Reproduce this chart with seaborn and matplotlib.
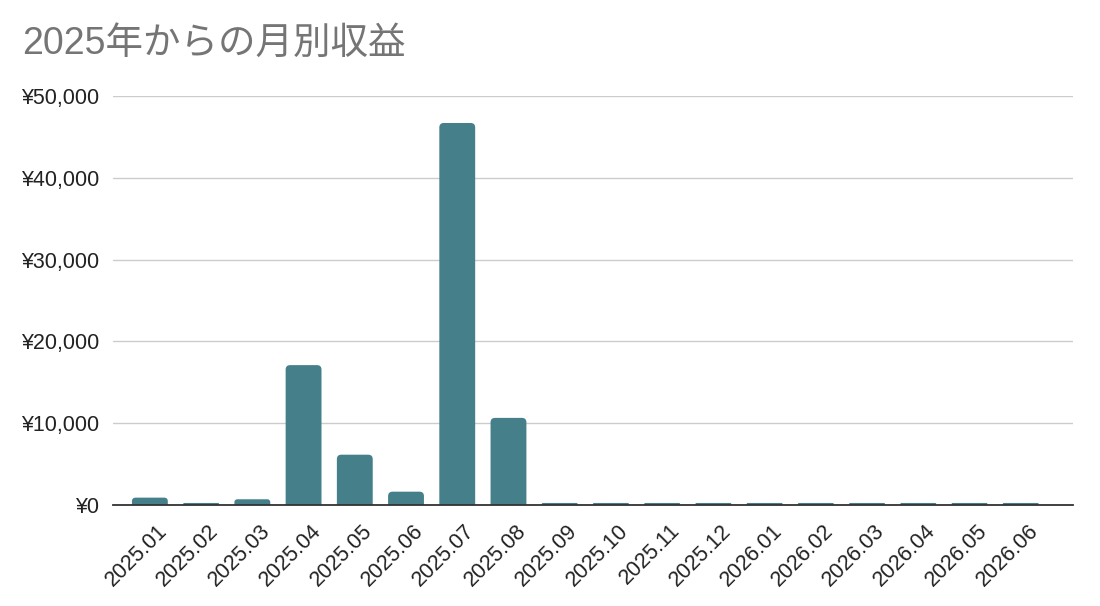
import matplotlib
matplotlib.use("Agg")
import matplotlib.pyplot as plt
from matplotlib.patches import PathPatch
from matplotlib.path import Path
from matplotlib.ticker import FuncFormatter
import matplotlib.transforms as mtransforms
import seaborn as sns
import pandas as pd

months = ["2025.01", "2025.02", "2025.03", "2025.04", "2025.05", "2025.06",
          "2025.07", "2025.08", "2025.09", "2025.10", "2025.11", "2025.12",
          "2026.01", "2026.02", "2026.03", "2026.04", "2026.05", "2026.06"]
revenue = [900, 250, 700, 17100, 6150, 1630, 46700, 10650, 250, 250,
           250, 250, 250, 250, 250, 250, 250, 250]
y_ticks = [0, 10000, 20000, 30000, 40000, 50000]
title = "2025年からの月別収益"

bar_color = "#457f8a"

sns.set_theme(style="white")
plt.rcParams["font.family"] = ["Liberation Sans", "Noto Sans CJK JP", "DejaVu Sans"]

df = pd.DataFrame({"month": months, "revenue": revenue})

fig = plt.figure(figsize=(11, 6.06), dpi=100)
ax = fig.add_axes([113 / 1100, 101 / 606, 960 / 1100, 409 / 606])

sns.barplot(data=df, x="month", y="revenue", color=bar_color, saturation=1,
            width=0.70, ax=ax, zorder=3)

ax.set_ylim(0, 50000)
ax.set_xlim(-0.72, len(months) - 1 + 1.02)

# rounded top corners (replace each seaborn bar with a top-rounded path)
px_per_x = 960 / (ax.get_xlim()[1] - ax.get_xlim()[0])
px_per_y = 409 / 50000
r_px = 4.5
for p in list(ax.patches):
    x0, w, h = p.get_x(), p.get_width(), p.get_height()
    p.set_visible(False)
    x1 = x0 + w
    r = min(r_px, h * px_per_y / 2.0)
    rx = r / px_per_x
    ry = r / px_per_y
    verts = [(x0, 0), (x0, h - ry), (x0, h), (x0 + rx, h), (x1 - rx, h),
             (x1, h), (x1, h - ry), (x1, 0), (x0, 0)]
    codes = [Path.MOVETO, Path.LINETO, Path.CURVE3, Path.CURVE3, Path.LINETO,
             Path.CURVE3, Path.CURVE3, Path.LINETO, Path.CLOSEPOLY]
    ax.add_patch(PathPatch(Path(verts, codes), facecolor=bar_color,
                           edgecolor="none", zorder=3))

ax.set_yticks(y_ticks)
ax.yaxis.set_major_formatter(FuncFormatter(lambda v, _: f"¥{int(v):,}"))
ax.grid(axis="y", color="#cccccc", linewidth=1.0, zorder=0)
ax.grid(axis="x", visible=False)

for s in ["top", "right", "left"]:
    ax.spines[s].set_visible(False)
ax.spines["bottom"].set_color("#333333")
ax.spines["bottom"].set_linewidth(1.3)
ax.spines["bottom"].set_zorder(4)

ax.set_xlabel("")
ax.set_ylabel("")
ax.tick_params(axis="y", length=0, pad=10, labelsize=15.5, labelcolor="#222222")
ax.tick_params(axis="x", length=0, pad=11, labelsize=15.5, labelcolor="#222222")
offset = mtransforms.ScaledTranslation(7 / 100, 0, fig.dpi_scale_trans)
for lab in ax.get_xticklabels():
    lab.set_rotation(45)
    lab.set_ha("right")
    lab.set_va("top")
    lab.set_rotation_mode("anchor")
    lab.set_transform(lab.get_transform() + offset)

fig.text(22 / 1100, 1 - 44 / 606, title, fontsize=27, color="#757575",
         ha="left", va="center")

fig.savefig("out.png", dpi=100, facecolor="white")
